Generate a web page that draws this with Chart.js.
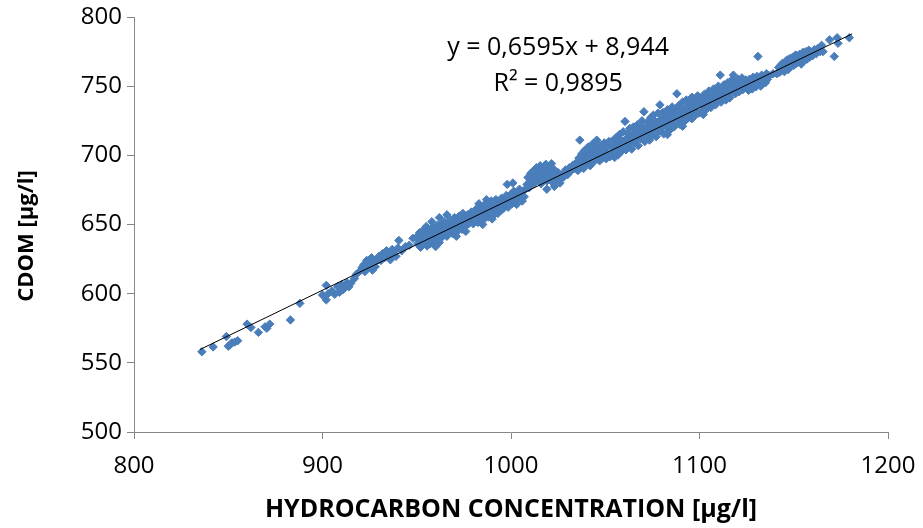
<!DOCTYPE html>
<html>
<head>
<meta charset="utf-8">
<script src="https://cdn.jsdelivr.net/npm/chart.js@4.4.1/dist/chart.umd.min.js"></script>
<style>
  html, body { margin: 0; padding: 0; background: #fff; }
  #wrap { width: 923px; height: 528px; }
</style>
</head>
<body>
<div id="wrap"><canvas id="scatterChart" width="923" height="528"></canvas></div>
<script>
// Samples, [hydrocarbon, cdom] in µg/l, grouped by stretch of the cloud.
const lowEnd = [
  [836,558],[842,561.5],[849,569],[850,562],[851,563],[852,564.5],[853.5,565],[855,566],
  [860,578],[862,575.5],[866,572],[869.5,576],[870.5,575],[872,578],[883,581],[888,593],
  [900,599],[902,606],[902,595.5],[903,600],[905,602],[906.5,599.5],[908,605],[909,601],
  [910,606.5],[911,603],[912,604.5],[913,608],[914,605],[915,607.5]
];
const band920 = [
  [917,611],[918,614],[920,616.5],[921,619],[922,621],[922.5,616],[923.5,624],[924,618.5],
  [925,621],[926,626],[926.5,617],[927.5,622],[928,619.5],[929,624.5],[930,627],[931,624],
  [932,629],[933,626],[934,631],[935,628.5],[936,624.5],[937,632],[938,629],[939,627],
  [940,633],[940.5,638.5],[942,631],[944,634],[946,635],[948,640],[950,641],[950.5,636]
];
const band950 = [
  [951,639],[951.5,644],[952,633.5],[952.5,637],[953,641.5],[953.5,646],[954,636],[954.5,639.5],
  [955,643],[955.5,634.5],[956,647],[956.5,640],[957,636],[957.5,644.5],[958,641],[958.5,648],
  [959,638],[959.5,643.5],[960,646],[960.5,639],[961,649.5],[961.5,642],[962,637],[962.5,645],
  [963,650],[963.5,641],[964,647],[964.5,652],[965,643],[965.5,648.5],[966,641.5],[966.5,651],
  [967,645.5],[967.5,649],[968,653],[968.5,646],[969,643.5],[969.5,651.5],[970,655],[970.5,648],
  [971,652],[971.5,645],[972,650.5],[972.5,656],[973,648.5],[973.5,653],[974,646.5],[974.5,658],
  [975,651],[975.5,655],[976,649],[976.5,653.5],[977,657],[977.5,650.5],[978,655.5],[978.5,652],
  [979,659],[979.5,654],[980,650.5],[955,648.5],[958,652],[962,655],[966,657],[960,634],
  [971,641.5],[976,645]
];
const band980 = [
  [980.5,658],[981,653],[981.5,661],[982,656.5],[982.5,651.5],[983,659.5],[983.5,663],[984,655],
  [984.5,658.5],[985,662],[985.5,653.5],[986,660],[986.5,665],[987,657.5],[987.5,661.5],[988,655.5],
  [988.5,663.5],[989,659],[989.5,667],[990,661],[990.5,656.5],[991,664.5],[991.5,660],[992,668],
  [992.5,662.5],[993,658],[993.5,666],[994,663],[994.5,660],[995,669],[995.5,665],[996,661.5],
  [996.5,667.5],[997,664],[997.5,671],[998,666.5],[998.5,662.5],[999,669.5],[999.5,667],[1000,672],
  [1000.5,665],[1001,669],[1001.5,674],[1002,667.5],[1002.5,671],[1003,664.5],[1003.5,673],[1004,669],
  [1004.5,675.5],[1005,671.5],[1006,667],[1006.5,674],[1007,670],[1008,676],[985,650],[990,654],
  [983,665],[987,668],[998,679],[1001,680]
];
const band1010 = [
  [1008.5,679],[1009,684],[1009.5,676.5],[1010,681],[1010.5,687],[1011,678.5],[1011.5,684.5],[1012,689],
  [1012.5,680],[1013,686],[1013.5,691],[1014,682.5],[1014.5,688],[1015,684],[1015.5,692.5],[1016,679.5],
  [1016.5,686.5],[1017,690],[1017.5,683],[1018,688.5],[1018.5,693.5],[1019,681.5],[1019.5,686],[1020,690.5],
  [1020.5,684],[1021,688],[1021.5,694],[1022,680.5],[1022.5,685.5],[1023,689.5],[1024,683],[1025,687.5],
  [1026,682],[1027,686],[1028,684.5],[1029,689.5],[1030,686],[1031,691],[1032,689],[1033,693],
  [1034,690.5],[1035,695],[1019,675.5],[1023,677.5],[1026,680]
];
const band1035 = [
  [1035.5,689],[1036,698],[1036.5,711],[1037,693.5],[1037.5,701],[1038,696],[1038.5,690.5],[1039,703.5],
  [1039.5,698.5],[1040,694],[1040.5,700.5],[1041,706],[1041.5,697],[1042,692.5],[1042.5,703],[1043,699.5],
  [1043.5,708.5],[1044,695.5],[1044.5,701.5],[1045,705],[1045.5,711],[1046,698],[1046.5,702.5],[1047,696],
  [1047.5,707],[1048,700.5],[1048.5,704.5],[1049,698.5],[1049.5,709],[1050,703],[1050.5,697.5],[1051,706.5],
  [1051.5,701],[1052,710]
];
const band1050 = [
  [1052.5,699],[1053,706.5],[1053.5,710],[1054,702],[1054.5,707.5],[1055,698.5],[1055.5,712.5],[1056,704.5],
  [1056.5,709],[1057,700.5],[1057.5,715],[1058,706],[1058.5,711],[1059,703.5],[1059.5,717],[1060,708.5],
  [1060.5,724.5],[1061,704],[1061.5,712.5],[1062,716],[1062.5,707],[1063,719.5],[1063.5,710.5],[1064,704.5],
  [1064.5,714],[1065,720.5],[1065.5,709],[1066,717],[1066.5,711.5],[1067,722],[1067.5,707],[1068,715],
  [1068.5,719],[1069,712],[1069.5,725],[1070,716.5],[1070.5,731.5],[1071,710],[1071.5,720],[1072,714],
  [1072.5,724],[1073,717.5],[1073.5,711],[1074,727],[1074.5,721],[1075,715],[1075.5,729],[1076,719],
  [1054.2,705],[1056.8,707.5],[1058.7,707.5],[1061.2,709.5],[1063.2,713],[1065.8,713.5],[1067.8,713.5],
  [1070.2,720],[1072.8,719],[1074.7,718]
];
const band1076 = [
  [1076.5,724.5],[1077,713.5],[1077.5,722],[1078,730.5],[1078.5,717.5],[1079,736.5],[1079.5,726],[1080,720],
  [1080.5,731],[1081,715.5],[1081.5,724],[1082,728],[1082.5,721],[1083,733],[1083.5,725.5],[1084,718],
  [1084.5,730],[1085,723.5],[1085.5,735],[1086,727],[1086.5,720.5],[1087,732],[1087.5,725],[1088,744.5],
  [1088.5,729.5],[1089,736],[1089.5,722.5],[1090,731],[1090.5,726.5],[1091,738.5],[1091.5,733],[1092,724.5],
  [1092.5,729.5],[1093,740],[1093.5,735],[1094,727],[1094.5,732],[1095,737.5],[1095.5,729],[1096,742],
  [1096.5,734.5],[1097,728],[1097.5,739],[1098,732],[1098.5,736],[1099,743],[1099.5,730.5],[1100,737.5],
  [1076.8,722],[1078.8,723],[1080.8,725],[1082.8,724.5],[1084.8,726.5],[1086.8,728.5],[1088.8,733],
  [1090.8,729],[1092.8,733],[1094.8,734],[1096.8,731],[1098.8,738],[1083,715],[1091,721],[1096,726.5]
];
const band1100 = [
  [1100.5,731],[1101,740],[1101.5,735.5],[1102,729.5],[1102.5,744],[1103,738],[1103.5,733],[1104,741.5],
  [1104.5,736],[1105,746.5],[1105.5,739.5],[1106,734.5],[1106.5,743],[1107,737.5],[1107.5,748],[1108,741],
  [1108.5,736.5],[1109,745],[1109.5,739.5],[1110,750],[1110.5,743],[1111,758],[1111.5,738.5],[1112,746.5],
  [1112.5,742],[1113,751],[1113.5,744.5],[1114,740],[1114.5,748],[1115,752.5],[1115.5,745],[1116,741.5],
  [1116.5,749.5],[1117,746],[1117.5,755],[1118,758],[1118.5,750],[1119,744.5],[1119.5,752],[1120,748],
  [1120.5,755],[1121,746],[1121.5,751.5],[1122,749],[1122.5,756],[1123,747.5],[1123.5,752.5],[1124,750],
  [1124.5,754.5],[1125,748.5]
];
const highEnd = [
  [1125.5,752.5],[1126,747],[1126.5,755],[1127,750],[1127.5,753.5],[1128,748],[1128.5,756.5],[1129,751.5],
  [1129.5,754],[1130,749.5],[1130.5,757],[1131,771.5],[1131.5,752.5],[1132,755.5],[1132.5,750],[1133,758],
  [1133.5,753.5],[1134,756],[1135,752.5],[1135.5,759],[1136,755],[1137,757.5],[1139,759],
  [1141,759],[1142,763.5],[1142.5,760],[1143,765],[1143.5,761.5],[1144,766.5],[1144.5,763],[1145,760.5],
  [1145.5,767.5],[1146,764],[1146.5,769],[1147,762],[1147.5,766],[1148,770],[1148.5,764.5],[1149,768],
  [1149.5,771],[1150,765],[1150.5,769],[1151,772.5],[1151.5,766.5],[1152,770.5],[1152.5,767.5],[1153,773],
  [1153.5,769.5],[1154,766],[1154.5,772],[1155,774.5],[1155.5,768.5],[1156,771.5],[1156.5,775],[1157,769.5],
  [1157.5,773],[1158,776],[1158.5,771],[1159,774],[1160,772],[1161,776.5],[1162,773.5],[1163,777.5],
  [1164,775],[1164.8,779.5],[1165.5,775],[1169,783.5],[1171.5,771.5],[1173,785],[1173.5,781],[1179.5,785]
];

// Linear trend as printed on the chart
const trendSlope = 0.6595;
const trendIntercept = 8.944;
const trendX = [835, 1181];
const equationLines = ['y = 0,6595x + 8,944', 'R² = 0,9895'];

const xTitle = 'HYDROCARBON CONCENTRATION [µg/l]';
const yTitle = 'CDOM [µg/l]';

const samples = [lowEnd, band920, band950, band980, band1010, band1035, band1050, band1076, band1100, highEnd]
  .flat()
  .map(p => ({ x: p[0], y: p[1] }));
const trendPoints = trendX.map(x => ({ x: x, y: trendSlope * x + trendIntercept }));

const axisGrey = '#868686';

// equation label + rotated y title, placed like Excel does
const extras = {
  id: 'extras',
  afterDraw(chart) {
    const ctx = chart.ctx;
    const xs = chart.scales.x;
    ctx.save();
    ctx.fillStyle = '#000';
    ctx.textAlign = 'center';
    ctx.textBaseline = 'middle';
    ctx.font = '25px "Open Sans"';
    ctx.fillText(equationLines[0], xs.getPixelForValue(1025), 48);
    ctx.fillText(equationLines[1], xs.getPixelForValue(1025), 84);
    ctx.font = 'bold 22px "Open Sans"';
    ctx.translate(27, 236);
    ctx.rotate(-Math.PI / 2);
    ctx.fillText(yTitle, 0, 0);
    ctx.restore();
  }
};

Chart.defaults.font.family = '"Open Sans", sans-serif';
Chart.defaults.color = '#000';

new Chart(document.getElementById('scatterChart'), {
  type: 'scatter',
  data: {
    datasets: [
      {
        label: 'trend',
        data: trendPoints,
        showLine: true,
        borderColor: '#000',
        borderWidth: 1,
        pointRadius: 0,
        order: 0
      },
      {
        label: 'samples',
        data: samples,
        pointStyle: 'rectRot',
        pointRadius: 4.2,
        backgroundColor: '#4a7ebb',
        borderColor: '#4a7ebb',
        borderWidth: 1,
        order: 1
      }
    ]
  },
  options: {
    responsive: false,
    animation: false,
    layout: { padding: { top: 17, right: 35, left: 0, bottom: 0 } },
    plugins: {
      legend: { display: false },
      tooltip: { enabled: false }
    },
    scales: {
      x: {
        type: 'linear',
        min: 800,
        max: 1200,
        afterFit: s => { s.height = 96; s.paddingLeft = 0; s.paddingRight = 0; },
        ticks: { stepSize: 100, font: { size: 24 }, padding: 13, callback: v => String(v) },
        grid: { drawOnChartArea: false, color: axisGrey, tickLength: 7 },
        border: { color: axisGrey },
        title: { display: true, text: xTitle, font: { size: 25, weight: 'bold' }, padding: { top: 0, bottom: 3 } }
      },
      y: {
        min: 500,
        max: 800,
        afterFit: s => { s.width = 134; s.paddingTop = 0; s.paddingBottom = 0; },
        ticks: { stepSize: 50, font: { size: 24 }, padding: 5, callback: v => String(v) },
        grid: { drawOnChartArea: false, color: axisGrey, tickLength: 7 },
        border: { color: axisGrey }
      }
    }
  },
  plugins: [extras]
});
</script>
</body>
</html>
